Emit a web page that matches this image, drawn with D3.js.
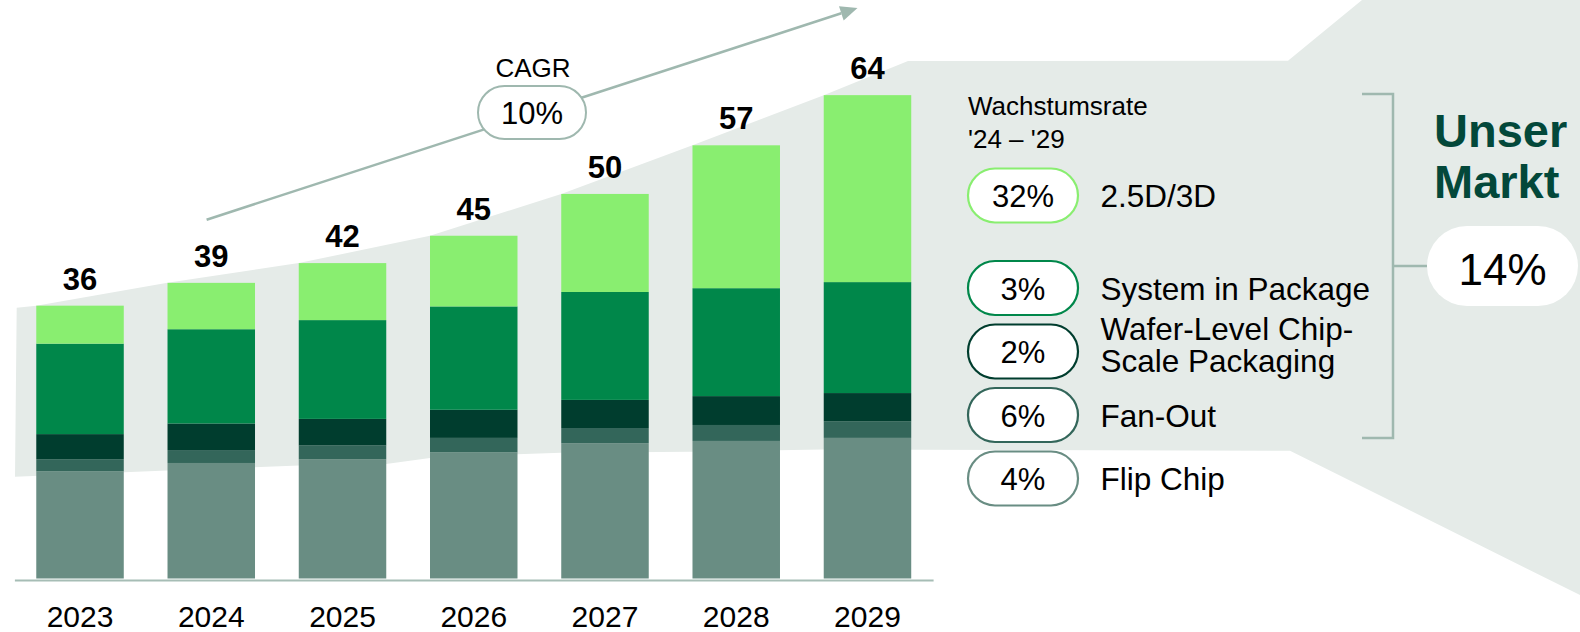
<!DOCTYPE html>
<html>
<head>
<meta charset="utf-8">
<script src="https://cdn.jsdelivr.net/npm/d3@7"></script>
<style>
  body { margin: 0; background: #fff; }
  svg { display: block; font-family: "Liberation Sans", Arial, Helvetica, sans-serif; }
</style>
</head>
<body>
<svg id="chart" width="1580" height="632"></svg>
<script>
// Market data, bn USD (stacked from bottom to top)
var years = ["2023", "2024", "2025", "2026", "2027", "2028", "2029"];
var flipChip = [14.1, 15.2, 15.7, 16.6, 17.8, 18.1, 18.5];
var fanOut   = [1.6, 1.7, 1.8, 1.9, 2.0, 2.1, 2.2];
var wlcsp    = [3.3, 3.5, 3.5, 3.7, 3.7, 3.8, 3.7];
var sip      = [11.9, 12.4, 13.0, 13.6, 14.2, 14.2, 14.6];
var d25_3d   = [5.0, 6.1, 7.5, 9.3, 12.9, 18.8, 24.6];
var totals   = [36, 39, 42, 45, 50, 57, 64];

var seriesKeys   = ["flip", "fanout", "wlcsp", "sip", "d3"];
var seriesColors = ["#698d83", "#33665a", "#003d2e", "#00874a", "#89ee70"];

var legendRates  = ["32%", "3%", "2%", "6%", "4%"];
var legendNames  = [["2.5D/3D"], ["System in Package"], ["Wafer-Level Chip-", "Scale Packaging"], ["Fan-Out"], ["Flip Chip"]];
var legendColors = ["#89ee70", "#00874a", "#003d2e", "#33665a", "#698d83"];

var cagr = "10%";
var marketRate = "14%";

function makeChart(id) {
    var svg = d3.select("#" + id);
    var grey = "#e5ebe8";
    var lineGrey = "#9fb8af";

    var x = d3.scaleBand().domain(years).range([14.4, 933.1])
        .paddingInner(1/3).paddingOuter(1/6);
    var y = d3.scaleLinear().domain([0, 70]).range([578.5, 578.5 - 70 * 7.6]);

    var table = years.map(function (yr, i) {
        return {year: yr, flip: flipChip[i], fanout: fanOut[i], wlcsp: wlcsp[i], sip: sip[i], d3: d25_3d[i], total: totals[i]};
    });
    var stacked = d3.stack().keys(seriesKeys)(table);

    // Background funnel ("Unser Markt" band)
    var topEdge = [[16.7, 307.7]];
    stacked[stacked.length - 1].forEach(function (d) {
        topEdge.push([x(d.data.year), y(d[1])]);
    });
    topEdge.push([908, 61], [1288, 60.7], [1362, 0], [1580, 0], [1580, 595], [1290, 450.7]);
    var bottomEdge = [[823, 449.5], [692, 451.7], [561, 452.7], [517, 454.3], [430, 458], [386, 464],
                      [299, 465.5], [167, 470.5], [15, 476.7]];
    svg.append('path')
        .attr('fill', grey)
        .attr('d', d3.line()(topEdge.concat(bottomEdge)) + "Z");

    // Stacked bars
    svg.append('g').selectAll('g')
        .data(stacked)
        .join('g')
        .attr('fill', function (d, i) { return seriesColors[i]; })
        .selectAll('rect')
        .data(function (d) { return d; })
        .join('rect')
        .attr('x', function (d) { return x(d.data.year); })
        .attr('y', function (d) { return y(d[1]); })
        .attr('width', x.bandwidth())
        .attr('height', function (d) { return y(d[0]) - y(d[1]); });

    // Total labels
    svg.append('g').selectAll('text')
        .data(table)
        .join('text')
        .attr('x', function (d) { return x(d.year) + x.bandwidth() / 2; })
        .attr('y', function (d) { return y(d.flip + d.fanout + d.wlcsp + d.sip + d.d3) - 16; })
        .attr('text-anchor', 'middle')
        .attr('font-size', 31)
        .attr('font-weight', 'bold')
        .attr('fill', '#000')
        .text(function (d) { return d.total; });

    // X axis
    var axis = svg.append('g').attr('transform', "translate(0, 580)")
        .call(d3.axisBottom(x).tickSize(0).tickPadding(0));
    axis.select('.domain').attr('stroke', '#a6bdb5').attr('stroke-width', 2);
    axis.selectAll('text')
        .attr('font-size', 30)
        .attr('font-family', null)
        .attr('fill', '#000')
        .attr('dy', null)
        .attr('y', 47);

    // CAGR arrow
    var a0 = [206.6, 219.7], a1 = [857.5, 8];
    var ang = Math.atan2(a1[1] - a0[1], a1[0] - a0[0]);
    var headLen = 17, headW = 7.5;
    var base = [a1[0] - headLen * Math.cos(ang), a1[1] - headLen * Math.sin(ang)];
    svg.append('line')
        .attr('x1', a0[0]).attr('y1', a0[1])
        .attr('x2', base[0]).attr('y2', base[1])
        .attr('stroke', lineGrey).attr('stroke-width', 2.5);
    svg.append('polygon')
        .attr('fill', lineGrey)
        .attr('points', [a1,
            [base[0] + headW * Math.sin(ang), base[1] - headW * Math.cos(ang)],
            [base[0] - headW * Math.sin(ang), base[1] + headW * Math.cos(ang)]].join(" "));
    svg.append('rect')
        .attr('x', 478).attr('y', 86).attr('width', 108).attr('height', 53).attr('rx', 26.5)
        .attr('fill', '#fff').attr('stroke', lineGrey).attr('stroke-width', 2);
    svg.append('text')
        .attr('x', 533).attr('y', 76.5).attr('text-anchor', 'middle')
        .attr('font-size', 26).text("CAGR");
    svg.append('text')
        .attr('x', 532).attr('y', 124).attr('text-anchor', 'middle')
        .attr('font-size', 31).text(cagr);

    // Legend
    svg.append('text').attr('x', 968).attr('y', 115).attr('font-size', 26).text("Wachstumsrate");
    svg.append('text').attr('x', 968).attr('y', 148).attr('font-size', 26).text("'24 \u2013 '29");

    var rowY = [195.5, 288, 351.5, 415, 478.5];
    var rows = svg.append('g').selectAll('g')
        .data(legendRates)
        .join('g')
        .attr('transform', function (d, i) { return "translate(0," + rowY[i] + ")"; });
    rows.append('rect')
        .attr('x', 968).attr('y', -27).attr('width', 110).attr('height', 54).attr('rx', 27)
        .attr('fill', '#fff')
        .attr('stroke', function (d, i) { return legendColors[i]; })
        .attr('stroke-width', 2.2);
    rows.append('text')
        .attr('x', 1023).attr('y', 11.5).attr('text-anchor', 'middle')
        .attr('font-size', 31)
        .text(function (d) { return d; });
    rows.append('text')
        .attr('font-size', 31.5)
        .selectAll('tspan')
        .data(function (d, i) { return legendNames[i]; })
        .join('tspan')
        .attr('x', 1100.5)
        .attr('y', function (d, j, nodes) { return nodes.length > 1 ? -11.5 + j * 31.7 : 11.5; })
        .text(function (d) { return d; });

    // Bracket and "Unser Markt"
    svg.append('path')
        .attr('fill', 'none').attr('stroke', lineGrey).attr('stroke-width', 2.5)
        .attr('d', "M1362,94H1393V438H1362M1393,266H1427");
    svg.append('text')
        .attr('font-size', 47).attr('font-weight', 'bold').attr('fill', '#03483a')
        .selectAll('tspan')
        .data(["Unser", "Markt"])
        .join('tspan')
        .attr('x', 1434)
        .attr('y', function (d, i) { return 147.3 + i * 51; })
        .text(function (d) { return d; });
    svg.append('rect')
        .attr('x', 1427).attr('y', 226).attr('width', 151).attr('height', 80).attr('rx', 40)
        .attr('fill', '#fff');
    svg.append('text')
        .attr('x', 1502.5).attr('y', 285).attr('text-anchor', 'middle')
        .attr('font-size', 44).text(marketRate);
}

makeChart('chart');
</script>
</body>
</html>
